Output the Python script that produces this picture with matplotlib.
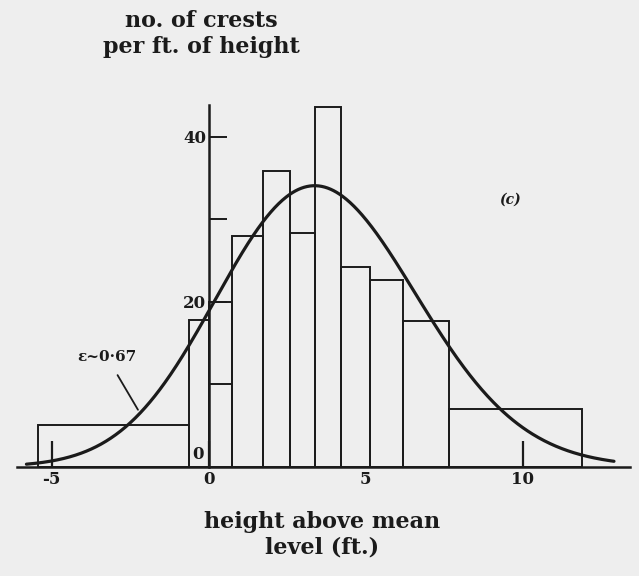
import math
import numpy as np
import matplotlib
matplotlib.use("Agg")
import matplotlib.pyplot as plt

# Histogram of crest heights (ft) -- bin edges and counts per ft of height
bin_edges = [-5.43, -0.63, 0.0, 0.73, 1.73, 2.58, 3.38, 4.20, 5.13, 6.17, 7.64, 11.87]
crests_per_ft = [5.1, 17.8, 20.0, 27.9, 35.8, 28.3, 43.6, 24.2, 22.6, 17.7, 7.0]
# sub-division inside the 0 - 0.73 ft class
sub_edges = [0.0, 0.73]
sub_count = [10.0]

# Theoretical crest distribution (Cartwright & Longuet-Higgins)
epsilon = 0.67
rms_scale_ft = 3.86
n_crests = 272.0
curve_range = (-5.8, 12.9)

x_ticks = [-5, 0, 5, 10]
x_ticklabels = ["-5", "0", "5", "10"]
y_ticks = [20, 30, 40]
y_ticklabels = ["20", "", "40"]

INK = "#1b1b1b"
PAPER = "#eeeeee"
SERIF = ["DejaVu Serif"]


def crest_pdf(eta, eps):
    a = math.sqrt(1.0 - eps ** 2)
    phi = math.exp(-0.5 * (eta / eps) ** 2) / math.sqrt(2 * math.pi)
    cdf = 0.5 * (1.0 + math.erf(a * eta / eps / math.sqrt(2.0)))
    return eps * phi + a * eta * math.exp(-0.5 * eta ** 2) * cdf


fig = plt.figure(figsize=(6.39, 5.76), dpi=100, facecolor=PAPER)
ax = fig.add_axes([17 / 639, (576 - 466.7) / 576, 613 / 639, 361.4 / 576])
ax.set_facecolor(PAPER)
ax.set_xlim(-6.10, 13.41)
ax.set_ylim(0, 43.8)

# histogram bars (outlined only)
lefts = np.array(bin_edges[:-1])
widths = np.diff(bin_edges)
ax.bar(lefts, crests_per_ft, width=widths, align="edge", fill=False,
       edgecolor=INK, linewidth=1.4, zorder=2)
ax.bar(sub_edges[0], sub_count, width=np.diff(sub_edges), align="edge",
       fill=False, edgecolor=INK, linewidth=1.4, zorder=2)

# theoretical curve
h = np.linspace(curve_range[0], curve_range[1], 600)
dens = np.array([crest_pdf(v / rms_scale_ft, epsilon) for v in h]) * n_crests / rms_scale_ft
ax.plot(h, dens, color=INK, linewidth=2.3, zorder=3, solid_capstyle="round")

# axes: baseline plus vertical axis through zero
for s in ("top", "right"):
    ax.spines[s].set_visible(False)
ax.spines["left"].set_position(("data", 0))
ax.spines["left"].set_linewidth(1.8)
ax.spines["bottom"].set_linewidth(1.8)
ax.spines["left"].set_color(INK)
ax.spines["bottom"].set_color(INK)

ax.set_xticks(x_ticks)
ax.set_xticklabels(x_ticklabels, fontfamily=SERIF, fontweight="bold", fontsize=12)
ax.tick_params(axis="x", direction="in", length=19, width=1.6, pad=3, colors=INK)
# the 5 ft mark coincides with a bar edge
ax.xaxis.get_major_ticks()[2].tick1line.set_visible(False)
ax.set_yticks(y_ticks)
ax.set_yticklabels(y_ticklabels, fontfamily=SERIF, fontweight="bold", fontsize=12)
ax.tick_params(axis="y", direction="in", length=13, width=1.4, pad=2, colors=INK)
ax.text(-0.15, 0.4, "0", ha="right", va="bottom", fontfamily=SERIF,
        fontweight="bold", fontsize=12, color=INK)

# annotations
ax.annotate("ε~0·67", xy=(-2.25, 6.9), xytext=(-3.24, 13.3),
            ha="center", va="center", fontfamily=SERIF, fontsize=11,
            fontweight="bold", color=INK,
            arrowprops=dict(arrowstyle="-", color=INK, lw=1.3,
                            shrinkA=7, shrinkB=0))
fig.text(510 / 639, 1 - 200 / 576, "(c)", ha="center", va="center",
         fontfamily=SERIF, fontstyle="italic", fontweight="bold", fontsize=10, color=INK)

fig.text(201 / 639, 1 - 34 / 576, "no. of crests\nper ft. of height", ha="center",
         va="center", fontfamily=SERIF, fontweight="bold", fontsize=16,
         color=INK, linespacing=1.2)
fig.text(322 / 639, 1 - 535 / 576, "height above mean\nlevel (ft.)", ha="center",
         va="center", fontfamily=SERIF, fontweight="bold", fontsize=16,
         color=INK, linespacing=1.2)

fig.savefig("out.png", dpi=100, facecolor=PAPER)
